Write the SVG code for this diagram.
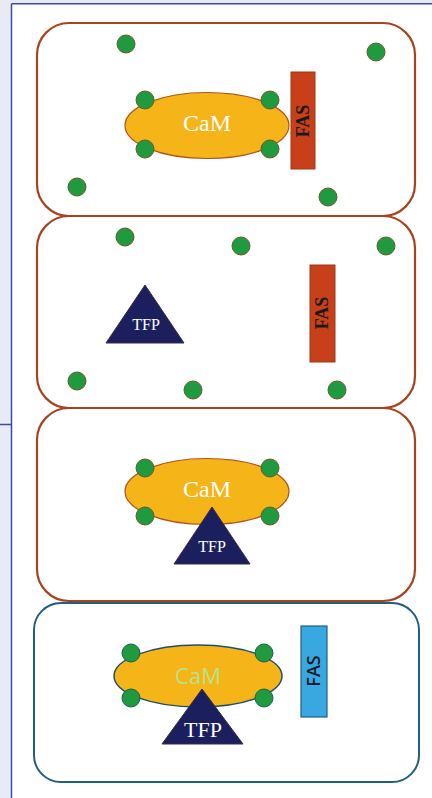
<svg xmlns="http://www.w3.org/2000/svg" width="432" height="798" viewBox="0 0 432 798">
<defs>
<style>
.cell{fill:none;stroke:#a8431e;stroke-width:2.2}
.cell4{fill:none;stroke:#1f5f80;stroke-width:2}
.dot{fill:#1f9a3f;stroke:#6a5a28;stroke-width:1}
.dot4{fill:#1f9a3f;stroke:#1f5f50;stroke-width:1}
.cam{fill:#f5b417;stroke:#b0521a;stroke-width:1.2}
.cam4{fill:#f5b417;stroke:#1f4f6f;stroke-width:1.5}
.camt{font-family:"Liberation Serif",serif;font-size:24px;fill:#ffffff;text-anchor:middle}
.camt4{font-family:"Open Sans","Liberation Sans",sans-serif;font-size:22px;fill:#b8e28c;text-anchor:middle}
.tfp{fill:#1c1f5e;stroke:#3a2a40;stroke-width:1}
.tfpt{font-family:"Liberation Serif",serif;font-size:16px;fill:#ffffff;text-anchor:middle}
.tfpt4{font-family:"Liberation Serif",serif;font-size:22px;fill:#ffffff;text-anchor:middle}
.fas{fill:#c8401a;stroke:#9a3a18;stroke-width:1}
.fas4{fill:#3aa8e0;stroke:#1f5f80;stroke-width:1.2}
.fast{font-family:"Liberation Serif",serif;font-weight:bold;font-size:18px;fill:#1a1a1a;text-anchor:middle}
.fast4{font-family:"Open Sans","Liberation Sans",sans-serif;font-weight:600;font-size:18px;fill:#1a1a2a;text-anchor:middle}
</style>
</defs>
<rect x="0" y="0" width="432" height="798" fill="#e8ebf5"/>
<rect x="11.5" y="4" width="421" height="794" fill="#ffffff"/>
<g id="frame" stroke="#3c4aa8" stroke-width="1.5" fill="none">
<line x1="11.5" y1="3.7" x2="432" y2="3.7"/>
<line x1="11.5" y1="3.7" x2="11.5" y2="798"/>
<line x1="0" y1="424.5" x2="11.5" y2="424.5"/>
</g>
<g id="panel1">
<rect class="cell" x="37" y="23" width="378" height="193" rx="32"/>
<circle class="dot" cx="126" cy="44" r="9"/>
<circle class="dot" cx="376" cy="52" r="9"/>
<circle class="dot" cx="77" cy="187" r="9"/>
<circle class="dot" cx="328" cy="197" r="9"/>
<ellipse class="cam" cx="207" cy="125.5" rx="82" ry="33"/>
<text class="camt" x="207" y="131">CaM</text>
<circle class="dot" cx="145" cy="100" r="9"/>
<circle class="dot" cx="270" cy="100" r="9"/>
<circle class="dot" cx="145" cy="149" r="9"/>
<circle class="dot" cx="270" cy="149" r="9"/>
<rect class="fas" x="291" y="72" width="24" height="97"/>
<text class="fast" transform="translate(309,121) rotate(-90)">FAS</text>
</g>
<g id="panel2">
<rect class="cell" x="37" y="216" width="378" height="192" rx="32"/>
<circle class="dot" cx="125" cy="237" r="9"/>
<circle class="dot" cx="241" cy="246" r="9"/>
<circle class="dot" cx="386" cy="246" r="9"/>
<circle class="dot" cx="77" cy="381" r="9"/>
<circle class="dot" cx="193" cy="390" r="9"/>
<circle class="dot" cx="337" cy="390" r="9"/>
<polygon class="tfp" points="145,285 106,343 184,343"/>
<text class="tfpt" x="146" y="330">TFP</text>
<rect class="fas" x="310" y="265" width="25" height="97"/>
<text class="fast" transform="translate(328,313) rotate(-90)">FAS</text>
</g>
<g id="panel3">
<rect class="cell" x="37" y="408" width="378" height="193" rx="32"/>
<ellipse class="cam" cx="207" cy="491.5" rx="82" ry="33"/>
<text class="camt" x="207" y="497">CaM</text>
<circle class="dot" cx="145" cy="468" r="9"/>
<circle class="dot" cx="270" cy="468" r="9"/>
<circle class="dot" cx="145" cy="516" r="9"/>
<circle class="dot" cx="270" cy="516" r="9"/>
<polygon class="tfp" points="212,507 174,564 250,564"/>
<text class="tfpt" x="212" y="552">TFP</text>
</g>
<g id="panel4">
<rect class="cell4" x="34" y="603" width="385" height="179" rx="27"/>
<ellipse class="cam4" cx="198" cy="676" rx="84" ry="31"/>
<text class="camt4" x="198" y="684">CaM</text>
<circle class="dot4" cx="131" cy="653" r="9"/>
<circle class="dot4" cx="264" cy="653" r="9"/>
<circle class="dot4" cx="131" cy="698" r="9"/>
<circle class="dot4" cx="264" cy="698" r="9"/>
<polygon class="tfp" points="202,689 162,744 243,744"/>
<text class="tfpt4" x="203" y="737">TFP</text>
<rect class="fas4" x="301" y="626" width="26" height="91"/>
<text class="fast4" transform="translate(320,671) rotate(-90)">FAS</text>
</g>
</svg>
